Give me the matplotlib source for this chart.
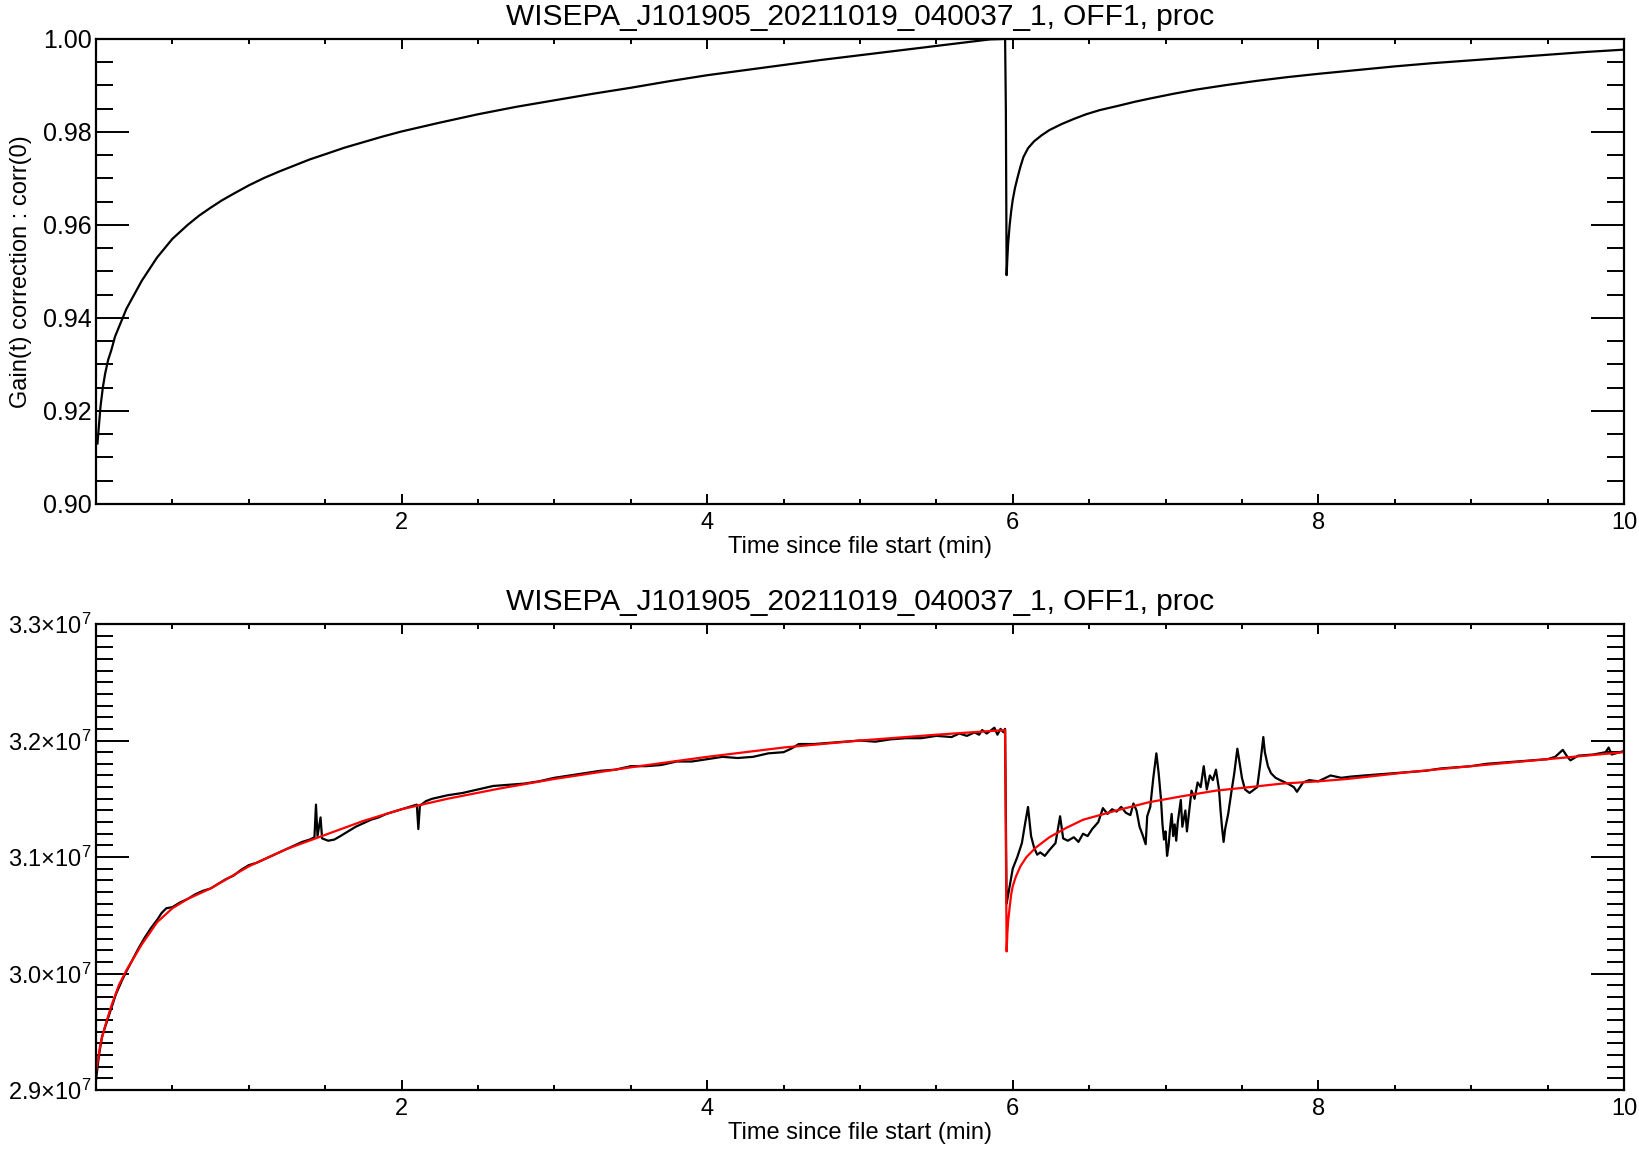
import numpy as np
import matplotlib
matplotlib.use("Agg")
import matplotlib.pyplot as plt
from matplotlib.ticker import MultipleLocator, FuncFormatter

TITLE = "WISEPA_J101905_20211019_040037_1, OFF1, proc"
XLABEL = "Time since file start (min)"
YLABEL_TOP = "Gain(t) correction : corr(0)"

# top panel: gain correction curve
gain_t = [0.01, 0.02, 0.03, 0.045, 0.06, 0.08, 0.10, 0.125, 0.15, 0.175, 0.20, 0.25,
          0.30, 0.35, 0.40, 0.45, 0.50, 0.55, 0.60, 0.675, 0.75, 0.825, 0.90, 1.00,
          1.10, 1.20, 1.30, 1.40, 1.50, 1.625, 1.75, 1.875, 2.00, 2.25, 2.50, 2.75,
          3.00, 3.25, 3.50, 3.75, 4.00, 4.25, 4.50, 4.75, 5.00, 5.25, 5.50, 5.70,
          5.85, 5.95, 5.955, 5.96, 5.965, 5.97, 5.98, 5.99, 6.00, 6.015, 6.03, 6.05,
          6.07, 6.10, 6.14, 6.19, 6.24, 6.32, 6.40, 6.48, 6.57, 6.70, 6.80, 6.90,
          7.05, 7.20, 7.40, 7.60, 7.80, 8.00, 8.25, 8.50, 8.75, 9.00, 9.25, 9.50,
          9.75, 10.0]
gain_v = [0.913, 0.917, 0.921, 0.925, 0.928, 0.931, 0.933, 0.936, 0.938, 0.940, 0.942, 0.945,
          0.948, 0.9505, 0.953, 0.955, 0.957, 0.9585, 0.960, 0.962, 0.9637, 0.9653, 0.9667, 0.9685,
          0.9701, 0.9715, 0.9728, 0.9741, 0.9752, 0.9766, 0.9778, 0.9790, 0.9801, 0.9820, 0.9838, 0.9854,
          0.9868, 0.9882, 0.9895, 0.9909, 0.9922, 0.9933, 0.9944, 0.9955, 0.9965, 0.9975, 0.9985, 0.9993,
          0.9999, 1.000, 0.985, 0.9492, 0.953, 0.956, 0.960, 0.963, 0.9654, 0.968, 0.970, 0.9725,
          0.9746, 0.9765, 0.978, 0.9793, 0.9804, 0.9817, 0.9828, 0.9838, 0.9847, 0.9857, 0.9865, 0.9872,
          0.9882, 0.9891, 0.9901, 0.9910, 0.9918, 0.9925, 0.9933, 0.9941, 0.9948, 0.9954, 0.9960, 0.9966,
          0.9972, 0.9977]

# bottom panel: measured signal (units of 1e7)
sig_t = [0.00, 0.02, 0.04, 0.07, 0.10, 0.13, 0.17, 0.20, 0.24, 0.28, 0.32, 0.36,
         0.40, 0.43, 0.46, 0.50, 0.55, 0.60, 0.65, 0.70, 0.75, 0.80, 0.85, 0.90,
         0.95, 1.00, 1.05, 1.10, 1.15, 1.20, 1.25, 1.30, 1.35, 1.40, 1.43, 1.44,
         1.45, 1.47, 1.48, 1.52, 1.56, 1.60, 1.65, 1.70, 1.75, 1.80, 1.85, 1.90,
         1.95, 2.00, 2.05, 2.10, 2.11, 2.12, 2.16, 2.20, 2.30, 2.40, 2.50, 2.60,
         2.70, 2.80, 2.90, 3.00, 3.10, 3.20, 3.30, 3.40, 3.50, 3.60, 3.70, 3.80,
         3.90, 4.00, 4.10, 4.20, 4.30, 4.40, 4.50, 4.55, 4.60, 4.70, 4.80, 4.90,
         5.00, 5.10, 5.20, 5.30, 5.40, 5.50, 5.60, 5.65, 5.70, 5.75, 5.78, 5.80,
         5.83, 5.85, 5.88, 5.90, 5.92, 5.94, 5.95, 5.96, 5.98, 6.00, 6.03, 6.06,
         6.08, 6.10, 6.12, 6.14, 6.16, 6.18, 6.21, 6.24, 6.28, 6.31, 6.33, 6.36,
         6.40, 6.43, 6.46, 6.49, 6.52, 6.56, 6.59, 6.62, 6.65, 6.68, 6.71, 6.74,
         6.77, 6.79, 6.81, 6.83, 6.85, 6.87, 6.88, 6.90, 6.92, 6.94, 6.955, 6.97,
         6.98, 6.99, 7.00, 7.01, 7.02, 7.03, 7.04, 7.05, 7.06, 7.07, 7.08, 7.10,
         7.11, 7.13, 7.14, 7.16, 7.17, 7.19, 7.21, 7.23, 7.25, 7.26, 7.27, 7.29,
         7.31, 7.33, 7.35, 7.36, 7.37, 7.38, 7.39, 7.41, 7.43, 7.45, 7.47, 7.48,
         7.50, 7.52, 7.55, 7.58, 7.60, 7.62, 7.64, 7.65, 7.67, 7.69, 7.72, 7.75,
         7.80, 7.84, 7.86, 7.90, 7.94, 8.00, 8.08, 8.15, 8.21, 8.30, 8.40, 8.50,
         8.60, 8.70, 8.80, 8.90, 9.00, 9.10, 9.20, 9.30, 9.40, 9.50, 9.55, 9.60,
         9.63, 9.65, 9.70, 9.80, 9.88, 9.90, 9.92, 10.0]
sig_v = [2.908, 2.930, 2.946, 2.958, 2.970, 2.982, 2.994, 3.002, 3.012, 3.022, 3.031, 3.039,
         3.046, 3.052, 3.056, 3.057, 3.061, 3.064, 3.068, 3.071, 3.073, 3.077, 3.081, 3.084,
         3.089, 3.093, 3.095, 3.098, 3.101, 3.104, 3.107, 3.110, 3.113, 3.115, 3.117, 3.145,
         3.118, 3.134, 3.116, 3.114, 3.115, 3.118, 3.122, 3.126, 3.129, 3.132, 3.134, 3.137,
         3.139, 3.141, 3.143, 3.145, 3.124, 3.144, 3.148, 3.150, 3.153, 3.155, 3.158, 3.161,
         3.162, 3.163, 3.165, 3.168, 3.170, 3.172, 3.174, 3.175, 3.178, 3.178, 3.179, 3.182,
         3.182, 3.184, 3.186, 3.185, 3.186, 3.189, 3.190, 3.193, 3.197, 3.197, 3.198, 3.199,
         3.200, 3.199, 3.201, 3.202, 3.202, 3.204, 3.203, 3.206, 3.204, 3.207, 3.205, 3.209,
         3.206, 3.208, 3.211, 3.205, 3.210, 3.207, 3.210, 3.060, 3.075, 3.090, 3.100, 3.112,
         3.128, 3.143, 3.118, 3.108, 3.102, 3.104, 3.101, 3.106, 3.112, 3.135, 3.116, 3.114,
         3.117, 3.113, 3.120, 3.118, 3.124, 3.130, 3.142, 3.137, 3.141, 3.139, 3.143, 3.138,
         3.136, 3.146, 3.140, 3.126, 3.119, 3.111, 3.135, 3.143, 3.168, 3.189, 3.172, 3.150,
         3.128, 3.115, 3.122, 3.101, 3.110, 3.125, 3.137, 3.118, 3.128, 3.114, 3.130, 3.149,
         3.126, 3.140, 3.122, 3.145, 3.157, 3.150, 3.164, 3.160, 3.178, 3.168, 3.158, 3.170,
         3.166, 3.175, 3.158, 3.140, 3.125, 3.113, 3.124, 3.137, 3.155, 3.172, 3.193, 3.185,
         3.168, 3.158, 3.155, 3.158, 3.160, 3.180, 3.203, 3.190, 3.178, 3.172, 3.168, 3.166,
         3.163, 3.160, 3.156, 3.164, 3.166, 3.165, 3.170, 3.168, 3.169, 3.170, 3.171, 3.172,
         3.173, 3.174, 3.176, 3.177, 3.178, 3.180, 3.181, 3.182, 3.183, 3.184, 3.186, 3.192,
         3.186, 3.183, 3.187, 3.188, 3.190, 3.194, 3.188, 3.191]

# bottom panel: fitted model (units of 1e7)
fit_t = [0.00, 0.03, 0.06, 0.10, 0.15, 0.20, 0.30, 0.40, 0.50, 0.60, 0.75, 1.00,
         1.25, 1.50, 1.75, 2.00, 2.30, 2.65, 3.00, 3.50, 4.00, 4.50, 5.00, 5.50,
         5.95, 5.96, 5.965, 5.97, 5.98, 5.99, 6.00, 6.02, 6.05, 6.09, 6.15, 6.24,
         6.35, 6.46, 6.57, 6.68, 6.89, 7.10, 7.33, 7.55, 7.76, 8.00, 8.19, 8.60,
         9.00, 9.50, 10.0]
fit_v = [2.915, 2.940, 2.955, 2.972, 2.990, 3.003, 3.025, 3.044, 3.056, 3.064, 3.073, 3.092,
         3.107, 3.119, 3.131, 3.141, 3.150, 3.159, 3.167, 3.177, 3.186, 3.194, 3.200, 3.205,
         3.209, 3.019, 3.035, 3.045, 3.057, 3.068, 3.075, 3.083, 3.092, 3.100, 3.108, 3.117,
         3.125, 3.132, 3.136, 3.140, 3.147, 3.152, 3.157, 3.160, 3.163, 3.165, 3.167, 3.173,
         3.178, 3.184, 3.190]

plt.rcParams['font.family'] = ['Liberation Sans', 'DejaVu Sans']
plt.rcParams['mathtext.default'] = 'regular'

FS = 17


def style_axes(ax, ymajor, yminor, ysize):
    ax.set_xlim(0, 10)
    ax.set_xticks([2, 4, 6, 8, 10])
    ax.xaxis.set_minor_locator(MultipleLocator(0.5))
    ax.yaxis.set_major_locator(MultipleLocator(ymajor))
    ax.yaxis.set_minor_locator(MultipleLocator(yminor))
    ax.tick_params(which='both', direction='in', top=True, right=True,
                   width=1.4, labelsize=FS, colors='black')
    ax.tick_params(axis='y', labelsize=ysize)
    ax.tick_params(axis='x', which='major', length=7, pad=6)
    ax.tick_params(axis='x', which='minor', length=3.5)
    ax.tick_params(axis='y', which='major', length=24, pad=3)
    ax.tick_params(axis='y', which='minor', length=12)
    for sp in ax.spines.values():
        sp.set_linewidth(1.6)
    ax.set_title(TITLE, fontsize=21.5, pad=10)
    ax.set_xlabel(XLABEL, fontsize=FS, labelpad=1)


fig = plt.figure(figsize=(16.4, 11.49), dpi=100)

ax1 = fig.add_axes([0.0585, 0.5614, 0.9317, 0.4047])
ax1.plot(gain_t, gain_v, color='black', lw=1.6)
ax1.set_ylim(0.90, 1.00)
style_axes(ax1, 0.02, 0.005, 18)
ax1.yaxis.set_major_formatter(FuncFormatter(lambda v, _: f"{v:.2f}"))
ax1.set_ylabel(YLABEL_TOP, fontsize=FS, labelpad=8)

ax2 = fig.add_axes([0.0585, 0.0513, 0.9317, 0.4056])
ax2.plot(sig_t, np.array(sig_v) * 1e7, color='black', lw=1.6)
ax2.plot(fit_t, np.array(fit_v) * 1e7, color='red', lw=1.6)
ax2.set_ylim(2.9e7, 3.3e7)
style_axes(ax2, 0.1e7, 0.01e7, 17)
ax2.yaxis.set_major_formatter(FuncFormatter(lambda v, _: f"{v / 1e7:.1f}×10$^7$"))

fig.savefig("out.png", dpi=100)
